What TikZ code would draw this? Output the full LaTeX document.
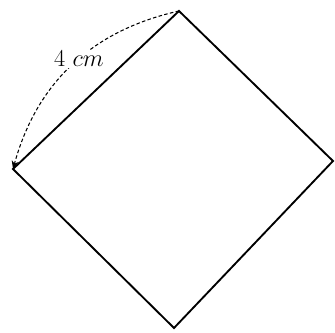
\documentclass[tikz,border=0pt]{standalone}
\usetikzlibrary{arrows.meta}

\begin{document}
\begin{tikzpicture}[
  x=0.03cm, y=-0.03cm, >={Stealth[length=7pt,width=6pt]},
  side/.style={line width=1.6pt, line join=miter},
  measure/.style={densely dashed, line width=0.9pt},
  lbl/.style={fill=white, inner sep=1pt, font=\huge},
]
\useasboundingbox (0,0) rectangle (335,332);
% corners of the square
\coordinate (top) at (179,11);
\coordinate (left) at (13,169);
\coordinate (bottom) at (174,328);
\coordinate (right) at (333,161);
\draw[side] (top) -- (right) -- (bottom) -- (left) -- cycle;
% side length
\draw[measure, ->] (top) to[bend right=31] node[lbl, pos=0.46] (len) {$4\ cm$} (left);
\end{tikzpicture}
\end{document}
